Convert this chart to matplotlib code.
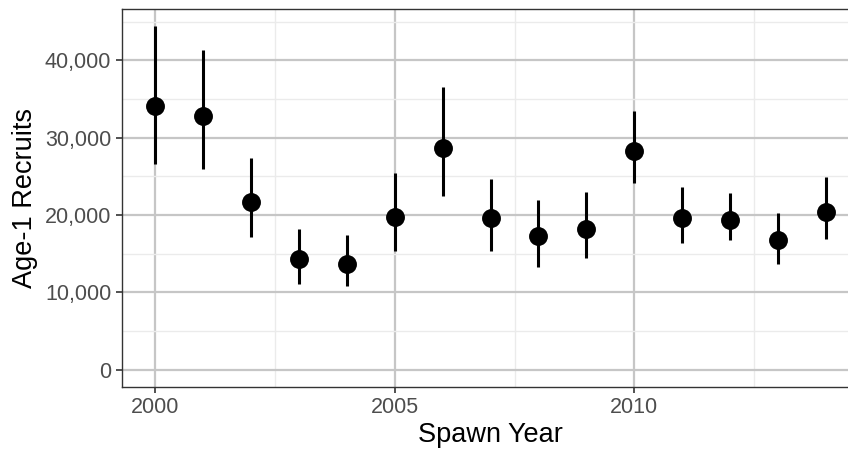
import matplotlib
matplotlib.use("Agg")
import matplotlib.pyplot as plt
from matplotlib.ticker import FuncFormatter, MultipleLocator
import numpy as np

plt.rcParams['font.family'] = ['Liberation Sans', 'DejaVu Sans']

# Age-1 recruit estimates by spawn year with interval bounds
years = [2000, 2001, 2002, 2003, 2004, 2005, 2006, 2007,
         2008, 2009, 2010, 2011, 2012, 2013, 2014]
recruits = [34100, 32800, 21700, 14300, 13700, 19800, 28700, 19600,
            17300, 18200, 28300, 19600, 19400, 16700, 20400]
lower = [26600, 25900, 17100, 11100, 10800, 15400, 22500, 15400,
         13300, 14400, 24200, 16400, 16700, 13600, 16900]
upper = [44400, 41400, 27400, 18200, 17400, 25400, 36500, 24700,
         22000, 23000, 33400, 23600, 22900, 20200, 24900]

x_ticks = [2000, 2005, 2010]
y_ticks = [0, 10000, 20000, 30000, 40000]

fig = plt.figure(figsize=(8.48, 4.51), dpi=100)
ax = fig.add_axes([0.1435, 0.1426, 0.870, 0.8368])

rec = np.array(recruits)
lo = np.array(lower)
hi = np.array(upper)

ax.vlines(years, lo, hi, color='black', linewidth=2.2, zorder=3)
ax.scatter(years, rec, s=185, color='black', zorder=4, linewidths=0)

# ggplot-style expansion: 5% of the data range on each side
ymax = hi.max()
pad = 0.05 * ymax
ax.set_ylim(-pad, ymax + pad)
xr = max(years) - min(years)
ax.set_xlim(min(years) - 0.05 * xr, max(years) + 0.05 * xr)

ax.set_xticks(x_ticks)
ax.set_yticks(y_ticks)
ax.xaxis.set_minor_locator(MultipleLocator(2.5))
ax.yaxis.set_minor_locator(MultipleLocator(5000))
ax.yaxis.set_major_formatter(FuncFormatter(lambda v, p: f"{int(v):,}"))

ax.grid(which='major', color='#C6C6C6', linewidth=1.6, zorder=0)
ax.grid(which='minor', color='#EBEBEB', linewidth=1.0, zorder=0)
ax.set_axisbelow(True)

ax.tick_params(which='major', length=4.5, width=1.2, color='#333333',
               labelsize=15.5, labelcolor='#4D4D4D', pad=3)
ax.tick_params(which='minor', length=0)

for s in ax.spines.values():
    s.set_color('#333333')
    s.set_linewidth(1.0)

ax.set_xlabel('Spawn Year', fontsize=19.5, color='black', labelpad=3)
ax.set_ylabel('Age-1 Recruits', fontsize=19.5, color='black', labelpad=5)

fig.savefig('out.png', dpi=100)
